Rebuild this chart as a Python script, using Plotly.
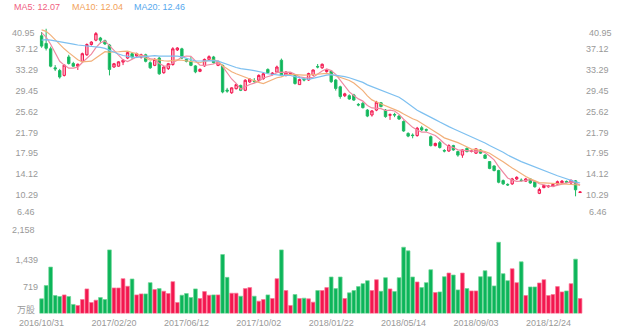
import pandas as pd
import plotly.graph_objects as go

# Weekly bars starting 2016/10/31
weeks = pd.date_range("2016-10-31", periods=120, freq="7D")
week_labels = [d.strftime("%Y/%m/%d") for d in weeks]

opens = [
    39.6, 38.2, 37.2, 33.7, 33.2, 32.3, 35.7, 34.5, 34.0, 34.9,
    36.1, 38.0, 38.8, 39.2, 38.7, 37.9, 33.85, 34.0, 34.75, 35.5,
    36.3, 35.9, 35.65, 36.1, 34.65, 34.15, 35.5, 32.8, 33.55, 34.3,
    37.0, 37.2, 35.25, 34.9, 34.05, 33.05, 34.05, 35.25, 35.7, 34.15,
    34.15, 29.6, 29.1, 29.85, 30.45, 29.55, 31.1, 31.3, 31.4, 31.7,
    33.4, 32.5, 32.9, 35.1, 32.3, 32.5, 32.3, 30.6, 31.6, 31.45,
    32.4, 33.95, 33.7, 33.0, 33.1, 31.45, 30.2, 28.55, 28.55, 28.7,
    26.95, 27.15, 25.9, 25.0, 25.9, 27.25, 25.9, 24.95, 25.1, 24.8,
    23.8, 21.6, 21.3, 21.2, 22.65, 22.3, 21.0, 19.35, 19.9, 18.45,
    18.35, 19.35, 18.25, 17.6, 18.85, 18.3, 17.95, 18.55, 17.6, 16.4,
    15.6, 14.75, 12.9, 12.2, 12.3, 13.2, 13.0, 12.8, 13.2, 12.7,
    10.55, 11.6, 11.75, 11.8, 12.25, 12.5, 12.75, 12.45, 12.85, 10.7,
]
highs = [
    40.3, 40.95, 37.6, 34.2, 33.5, 34.3, 36.1, 34.8, 34.5, 36.5,
    38.2, 38.6, 40.3, 39.4, 38.9, 38.1, 34.6, 34.9, 35.3, 36.7,
    36.5, 36.5, 36.3, 36.3, 34.9, 35.5, 35.7, 34.0, 34.6, 37.5,
    37.5, 37.4, 35.4, 35.7, 34.2, 33.6, 35.4, 36.0, 35.9, 35.0,
    34.3, 30.0, 30.1, 30.8, 30.6, 31.6, 31.8, 31.8, 32.5, 32.8,
    33.6, 32.9, 34.1, 35.4, 33.1, 32.9, 32.5, 31.7, 31.9, 32.8,
    33.4, 34.4, 34.5, 33.5, 33.3, 31.6, 30.4, 29.1, 28.8, 28.9,
    27.2, 27.4, 26.1, 25.9, 27.6, 27.4, 26.1, 25.3, 25.4, 25.0,
    24.0, 21.8, 21.6, 22.8, 23.0, 22.5, 21.2, 19.9, 20.2, 18.7,
    19.6, 19.5, 18.4, 18.7, 19.0, 18.6, 18.9, 18.7, 17.8, 16.5,
    15.7, 14.9, 13.1, 12.4, 13.4, 13.7, 13.3, 13.4, 13.3, 12.8,
    11.6, 12.1, 12.1, 12.35, 12.9, 13.0, 12.9, 13.1, 13.0, 10.9,
]
lows = [
    37.4, 36.9, 33.8, 33.1, 31.7, 32.1, 34.3, 33.9, 33.3, 34.6,
    35.9, 37.8, 38.6, 38.2, 37.9, 32.3, 33.7, 33.9, 34.2, 35.3,
    35.3, 35.5, 35.4, 34.7, 33.5, 34.0, 32.4, 32.6, 33.3, 34.1,
    36.8, 35.3, 34.7, 34.0, 32.7, 32.9, 33.9, 35.1, 34.5, 34.0,
    29.0, 29.1, 28.9, 29.7, 29.4, 29.4, 30.9, 30.9, 31.2, 31.5,
    32.6, 32.3, 32.7, 32.1, 32.1, 32.3, 30.6, 30.6, 31.2, 31.3,
    32.2, 33.6, 33.5, 32.8, 30.9, 29.5, 28.0, 28.3, 27.8, 27.6,
    26.6, 26.2, 24.6, 24.7, 25.7, 26.4, 24.5, 24.1, 24.6, 24.1,
    21.9, 20.9, 20.7, 21.0, 22.0, 21.9, 19.2, 19.2, 18.8, 18.1,
    18.2, 18.4, 17.3, 17.1, 18.1, 18.1, 17.8, 17.8, 16.9, 15.0,
    14.6, 12.4, 12.1, 11.9, 12.1, 13.0, 12.7, 12.7, 12.3, 11.6,
    10.4, 11.5, 11.6, 11.7, 12.1, 12.3, 12.4, 12.3, 10.0, 10.6,
]
closes = [
    37.7, 37.3, 34.0, 33.5, 32.0, 34.2, 34.5, 34.0, 34.35, 36.3,
    38.0, 38.45, 40.0, 38.8, 38.1, 33.4, 34.45, 34.8, 35.1, 36.5,
    35.7, 36.3, 36.1, 34.9, 33.7, 35.25, 32.6, 33.85, 34.45, 37.2,
    37.35, 35.5, 34.9, 34.15, 32.95, 33.4, 35.25, 35.75, 34.65, 34.9,
    29.25, 29.4, 30.0, 30.6, 29.55, 31.4, 31.6, 31.2, 32.3, 32.6,
    32.8, 32.7, 33.85, 32.3, 32.9, 32.7, 30.8, 31.55, 31.45, 32.65,
    33.3, 33.85, 34.35, 33.25, 31.15, 29.9, 28.4, 28.9, 27.95, 27.75,
    26.85, 26.35, 24.8, 25.75, 27.35, 26.55, 24.7, 25.05, 25.0, 24.25,
    22.05, 21.1, 21.2, 22.55, 22.25, 22.2, 19.35, 19.75, 19.0, 18.35,
    19.35, 18.55, 17.6, 18.55, 18.25, 18.35, 18.75, 17.95, 17.0, 15.15,
    14.75, 12.6, 12.3, 12.1, 13.2, 13.5, 12.9, 13.2, 12.45, 11.76,
    11.25, 12.0, 11.9, 12.2, 12.7, 12.8, 12.6, 12.95, 11.2, 10.8,
]
# Volume, 10k shares
volume = [
    393, 749, 1248, 481, 455, 499, 455, 241, 214, 374,
    660, 294, 356, 428, 374, 1711, 686, 686, 936, 731,
    927, 499, 526, 526, 829, 642, 668, 597, 535, 856,
    294, 490, 535, 428, 660, 401, 588, 490, 499, 499,
    1586, 971, 544, 544, 463, 668, 695, 463, 330, 374,
    499, 401, 936, 1711, 615, 214, 508, 401, 410, 392,
    303, 615, 615, 695, 981, 668, 981, 401, 553, 615,
    722, 802, 882, 615, 909, 597, 963, 660, 588, 963,
    1783, 1685, 981, 847, 695, 829, 1177, 562, 579, 989,
    1088, 1034, 633, 1088, 668, 606, 606, 989, 1150, 989,
    740, 1916, 1070, 882, 1203, 829, 1390, 481, 713, 713,
    820, 909, 481, 508, 722, 579, 606, 802, 1462, 401,
]
# Closes of the 19 weeks before the first bar, used to seed the averages
prior_closes = [
    35.2, 35.8, 36.0, 36.5, 36.2, 36.8, 37.4, 37.9, 38.2, 39.0,
    40.0, 41.0, 41.8, 42.0, 41.2, 41.5, 40.6, 40.8, 40.4,
]

price_ticks = [6.46, 10.29, 14.12, 17.95, 21.79, 25.62, 29.45, 33.29, 37.12, 40.95]
volume_ticks = [0, 719, 1439, 2158]

UP, DOWN = "#f3174f", "#0cb55a"
GRAY = "#999999"
FONT = "Liberation Sans, Arial, sans-serif"
MA_COLORS = {5: "#ef8aa2", 10: "#f2b07a", 20: "#7ec0f0"}
MA_TEXT = {5: "#f0607f", 10: "#f2a25a", 20: "#55a8ee"}

n = len(closes)
xs = list(range(n))
series = pd.Series(prior_closes + closes)
ma = {k: series.rolling(k).mean().iloc[len(prior_closes):].round(4).tolist() for k in (5, 10, 20)}

W, H = 618, 335
px_left, px_right = 39, 585
step = 4.525
x0 = 41.6
xr = [(px_left - x0) / step, (px_right - x0) / step]


def py(ypx):
    return (H - ypx) / H


fig = go.Figure()
fig.add_trace(go.Candlestick(
    x=xs, open=opens, high=highs, low=lows, close=closes,
    increasing=dict(line=dict(color=UP, width=1), fillcolor="rgba(243,23,79,0.30)"),
    decreasing=dict(line=dict(color="#22bb66", width=1), fillcolor=DOWN),
    whiskerwidth=0, xaxis="x", yaxis="y", hoverinfo="skip",
))
for k in (5, 10, 20):
    fig.add_trace(go.Scatter(x=xs, y=ma[k], mode="lines",
                             line=dict(color=MA_COLORS[k], width=1.2),
                             xaxis="x", yaxis="y", hoverinfo="skip"))
# mirror axis on the right side of the price panel
fig.add_trace(go.Scatter(x=[xs[0]], y=[closes[0]], mode="markers", marker=dict(opacity=0),
                         xaxis="x", yaxis="y3", hoverinfo="skip"))

vol_colors = [UP if c >= o else DOWN for o, c in zip(opens, closes)]
vol_edges = ["rgba(250,120,150,0.9)" if c >= o else "rgba(110,215,150,0.9)"
             for o, c in zip(opens, closes)]
fig.add_trace(go.Bar(x=xs, y=volume, marker=dict(color=vol_colors,
                                                 line=dict(color=vol_edges, width=0.8)),
                     xaxis="x", yaxis="y2", hoverinfo="skip"))

price_dom = [py(215.5), py(28.5)]
vol_dom = [py(313.4), py(233.3)]
inner_ticks = price_ticks[1:-1]
tick_font = dict(family=FONT, size=9, color=GRAY)
common = dict(showgrid=False, zeroline=False, showline=False, ticks="", automargin=False,
              fixedrange=True, tickfont=tick_font)

fig.update_layout(
    width=W, height=H, margin=dict(l=0, r=0, t=0, b=0, autoexpand=False),
    paper_bgcolor="white", plot_bgcolor="white", showlegend=False,
    bargap=0.18, boxgap=0.25,
    xaxis=dict(domain=[px_left / W, px_right / W], range=xr, anchor="y2",
               tickvals=xs[::16], ticktext=week_labels[::16], ticklabelstandoff=3,
               rangeslider=dict(visible=False), **common),
    yaxis=dict(domain=price_dom, range=[price_ticks[0], price_ticks[-1]], anchor="x",
               tickvals=inner_ticks, ticktext=[f"{v:.2f}" for v in inner_ticks], **common),
    yaxis3=dict(domain=price_dom, range=[price_ticks[0], price_ticks[-1]], overlaying="y",
                side="right", anchor="x",
                tickvals=inner_ticks, ticktext=[f"{v:.2f}" for v in inner_ticks], **common),
    yaxis2=dict(domain=vol_dom, range=[volume_ticks[0], volume_ticks[-1]], anchor="x",
                tickvals=volume_ticks[1:-1],
                ticktext=[f"{v:,}" for v in volume_ticks[1:-1]], **common),
)

# edge labels of the value axes sit slightly inside the panel
edge_labels = [
    (f"{price_ticks[-1]:.2f}", 32.7), (f"{price_ticks[0]:.2f}", 212.3),
    (f"{volume_ticks[-1]:,}", 230.0),
]
for text, ypx in edge_labels:
    fig.add_annotation(x=37 / W, y=py(ypx), xref="paper", yref="paper", text=text,
                       showarrow=False, xanchor="right", yanchor="middle", font=tick_font)
for text, ypx in edge_labels[:2]:
    fig.add_annotation(x=587 / W, y=py(ypx), xref="paper", yref="paper", text=text,
                       showarrow=False, xanchor="left", yanchor="middle", font=tick_font)
fig.add_annotation(x=37 / W, y=py(309), xref="paper", yref="paper", text="万股",
                   showarrow=False, xanchor="right", yanchor="middle",
                   font=dict(family="Noto Sans CJK SC, " + FONT, size=9, color=GRAY))

# moving-average readout along the top
lx = 12.3
for k in (5, 10, 20):
    text = f"MA{k}: {ma[k][-1]:.2f}"
    fig.add_annotation(x=lx / W, y=py(6.7), xref="paper", yref="paper", text=text,
                       showarrow=False, xanchor="left", yanchor="middle",
                       font=dict(family=FONT, size=9, color=MA_TEXT[k]))
    lx += 57.3 if k == 5 else 62.5

fig.write_html("out.html")
